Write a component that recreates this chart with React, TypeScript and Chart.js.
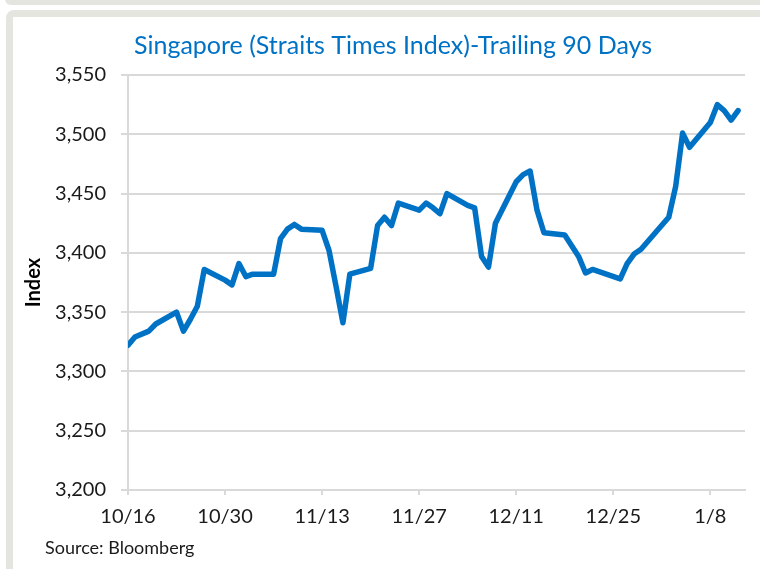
import React, { useEffect, useRef } from 'react';
import { Chart, registerables } from 'chart.js';

Chart.register(...registerables);

const chartTitle = 'Singapore (Straits Times Index)-Trailing 90 Days';
const yAxisTitle = 'Index';
const sourceNote = 'Source: Bloomberg';

const axisStartDate = '2017-10-16';
const axisEndDate = '2018-01-13';

const tradingDates = [
  '2017-10-16', '2017-10-17', '2017-10-19', '2017-10-20', '2017-10-23', '2017-10-24', '2017-10-25', '2017-10-26', '2017-10-27',
  '2017-10-30', '2017-10-31', '2017-11-01', '2017-11-02', '2017-11-03',
  '2017-11-06', '2017-11-07', '2017-11-08', '2017-11-09', '2017-11-10',
  '2017-11-13', '2017-11-14', '2017-11-15', '2017-11-16', '2017-11-17',
  '2017-11-20', '2017-11-21', '2017-11-22', '2017-11-23', '2017-11-24',
  '2017-11-27', '2017-11-28', '2017-11-29', '2017-11-30', '2017-12-01',
  '2017-12-04', '2017-12-05', '2017-12-06', '2017-12-07', '2017-12-08',
  '2017-12-11', '2017-12-12', '2017-12-13', '2017-12-14', '2017-12-15',
  '2017-12-18', '2017-12-19', '2017-12-20', '2017-12-21', '2017-12-22',
  '2017-12-26', '2017-12-27', '2017-12-28', '2017-12-29',
  '2018-01-02', '2018-01-03', '2018-01-04', '2018-01-05',
  '2018-01-08', '2018-01-09', '2018-01-10', '2018-01-11', '2018-01-12',
];

const stiValues = [
  3322, 3329, 3334, 3340, 3350, 3334, 3344, 3355, 3386,
  3377, 3373, 3391, 3380, 3382,
  3382, 3412, 3420, 3424, 3420,
  3419, 3402, 3372, 3341, 3382,
  3387, 3423, 3430, 3423, 3442,
  3436, 3442, 3438, 3433, 3450,
  3440, 3438, 3397, 3388, 3425,
  3460, 3466, 3469, 3436, 3417,
  3415, 3406, 3397, 3383, 3386,
  3378, 3391, 3399, 3403,
  3430, 3456, 3501, 3489,
  3510, 3525, 3520, 3512, 3520,
];

const xTickLabels = ['10/16', '10/30', '11/13', '11/27', '12/11', '12/25', '1/8'];
const xTickStepDays = 14;
const yMin = 3200;
const yMax = 3550;
const yStep = 50;

const FONT = 'Lato, "Open Sans", sans-serif';
const BLUE = 'rgb(0,114,198)';
const GRID = '#d9d9d9';
const FRAME = 'rgb(229,229,224)';

const dayMs = 24 * 3600 * 1000;
const dayOffset = (d: string) => Math.round((Date.parse(d) - Date.parse(axisStartDate)) / dayMs);

export default function App() {
  const canvasRef = useRef<HTMLCanvasElement | null>(null);

  useEffect(() => {
    const canvas = canvasRef.current;
    if (!canvas) return;

    const points = tradingDates.map((d, i) => ({ x: dayOffset(d), y: stiValues[i] }));

    const textPlugin = {
      id: 'panelTexts',
      afterDraw(chart: any) {
        const ctx = chart.ctx;
        ctx.save();
        ctx.textBaseline = 'middle';
        ctx.font = `25px ${FONT}`;
        ctx.fillStyle = BLUE;
        ctx.textAlign = 'center';
        ctx.fillText(chartTitle, 393, 46);
        ctx.font = `18px ${FONT}`;
        ctx.fillStyle = '#1a1a1a';
        ctx.textAlign = 'left';
        ctx.fillText(sourceNote, 45, 548);
        ctx.restore();
      },
    };

    const chart = new Chart(canvas, {
      type: 'line',
      data: {
        datasets: [
          {
            label: 'STI',
            data: points,
            borderColor: BLUE,
            borderWidth: 5.5,
            pointRadius: 0,
            tension: 0,
            borderJoinStyle: 'round',
            borderCapStyle: 'round',
            fill: false,
          },
        ],
      },
      options: {
        responsive: false,
        animation: false,
        devicePixelRatio: 1,
        layout: { padding: { left: 0, right: 15, top: 75, bottom: 43 } },
        plugins: {
          legend: { display: false },
          tooltip: { enabled: false },
          title: { display: false },
        },
        scales: {
          x: {
            type: 'linear',
            min: 0,
            max: dayOffset(axisEndDate),
            afterBuildTicks: (scale: any) => {
              scale.ticks = xTickLabels.map((_, i) => ({ value: i * xTickStepDays }));
            },
            afterFit: (scale: any) => {
              scale.height = 36;
            },
            ticks: {
              autoSkip: false,
              maxRotation: 0,
              padding: 10,
              color: '#1a1a1a',
              font: { family: FONT, size: 20 },
              callback: (v: any) => xTickLabels[Math.round(Number(v) / xTickStepDays)] ?? '',
            },
            grid: { display: true, drawOnChartArea: false, drawTicks: true, tickLength: 5, color: GRID, lineWidth: 2 },
            border: { display: true, color: GRID, width: 2 },
          },
          y: {
            type: 'linear',
            min: yMin,
            max: yMax,
            afterFit: (scale: any) => {
              scale.width = 128;
            },
            ticks: {
              stepSize: yStep,
              padding: 15,
              color: '#1a1a1a',
              font: { family: FONT, size: 20 },
              callback: (v: any) => Number(v).toLocaleString('en-US'),
            },
            grid: { color: GRID, lineWidth: 2, tickLength: 7 },
            border: { display: true, color: GRID, width: 2 },
            title: {
              display: true,
              text: yAxisTitle,
              color: '#000',
              font: { family: FONT, size: 20, weight: 'bold' },
              padding: { top: 22, bottom: 0 },
            },
          },
        },
      },
      plugins: [textPlugin],
    } as any);

    return () => chart.destroy();
  }, []);

  return (
    <div style={{ position: 'fixed', left: 0, top: 0, width: 760, height: 569, overflow: 'hidden', background: '#fff' }}>
      <div
        style={{
          position: 'absolute',
          left: 5,
          top: -20,
          width: 800,
          height: 25,
          background: FRAME,
          borderBottomLeftRadius: 6,
        }}
      />
      <div
        style={{
          position: 'absolute',
          left: 6,
          top: 10,
          width: 800,
          height: 600,
          border: `7px solid ${FRAME}`,
          borderTopLeftRadius: 8,
          boxSizing: 'border-box',
        }}
      />
      <canvas ref={canvasRef} width={760} height={569} style={{ position: 'absolute', left: 0, top: 0 }} />
    </div>
  );
}
